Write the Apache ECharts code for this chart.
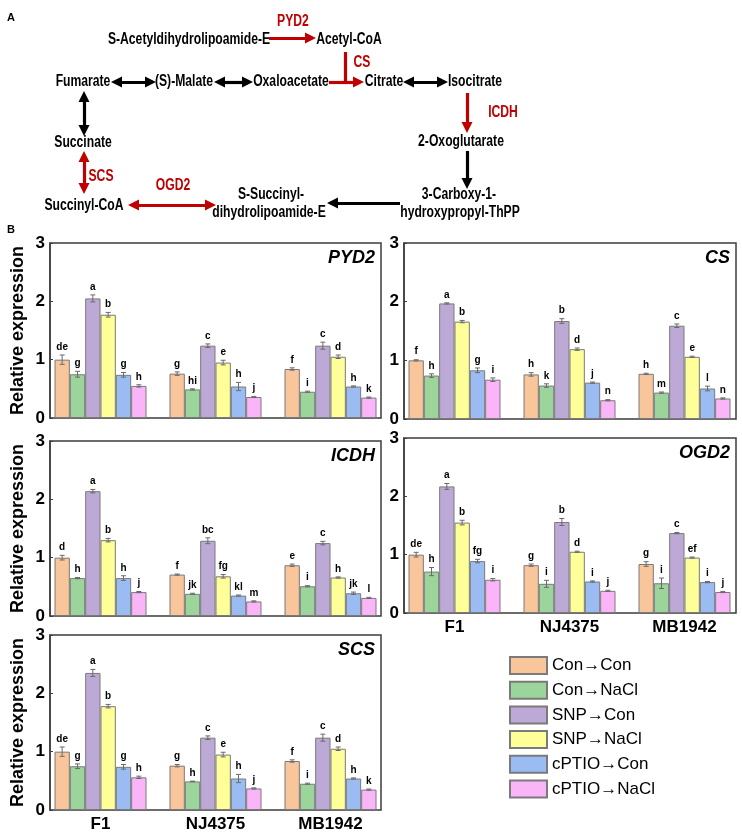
<!DOCTYPE html>
<html><head><meta charset="utf-8">
<script src="https://cdn.jsdelivr.net/npm/echarts@6/dist/echarts.min.js"></script>
<style>html,body{margin:0;padding:0;background:#fff}#c{width:742px;height:835px}</style>
</head><body><div id="c"></div><script>
// ---------------- DATA ----------------
const categories = ['F1', 'NJ4375', 'MB1942'];
const treatments = ['Con→Con', 'Con→NaCl', 'SNP→Con', 'SNP→NaCl', 'cPTIO→Con', 'cPTIO→NaCl'];
const yTicks = [0, 1, 2, 3];
const genes = ['PYD2', 'CS', 'ICDH', 'OGD2', 'SCS'];

// rows: F1, NJ4375, MB1942 ; columns: the 6 treatments
const pyd2Mean = [[1.00, 0.75, 2.05, 1.77, 0.74, 0.55], [0.76, 0.49, 1.24, 0.95, 0.54, 0.36], [0.84, 0.45, 1.24, 1.05, 0.54, 0.35]];
const pyd2Err  = [[0.08, 0.05, 0.06, 0.04, 0.04, 0.02], [0.03, 0.01, 0.03, 0.04, 0.07, 0.01], [0.02, 0.01, 0.06, 0.03, 0.01, 0.01]];
const pyd2Sig  = [['de', 'g', 'a', 'b', 'g', 'h'], ['g', 'hi', 'c', 'e', 'h', 'j'], ['f', 'i', 'c', 'd', 'h', 'k']];

const csMean = [[1.00, 0.74, 1.97, 1.66, 0.83, 0.67], [0.76, 0.57, 1.67, 1.19, 0.62, 0.32], [0.77, 0.45, 1.59, 1.06, 0.52, 0.35]];
const csErr  = [[0.01, 0.03, 0.01, 0.02, 0.04, 0.03], [0.03, 0.03, 0.04, 0.02, 0.01, 0.01], [0.01, 0.01, 0.03, 0.01, 0.04, 0.01]];
const csSig  = [['f', 'h', 'a', 'b', 'g', 'i'], ['h', 'k', 'b', 'd', 'j', 'n'], ['h', 'm', 'c', 'e', 'l', 'n']];

const icdhMean = [[1.00, 0.65, 2.14, 1.30, 0.65, 0.41], [0.71, 0.38, 1.29, 0.68, 0.35, 0.25], [0.87, 0.51, 1.25, 0.66, 0.39, 0.31]];
const icdhErr  = [[0.04, 0.01, 0.03, 0.03, 0.04, 0.01], [0.01, 0.01, 0.05, 0.03, 0.01, 0.01], [0.02, 0.01, 0.03, 0.01, 0.02, 0.01]];
const icdhSig  = [['d', 'h', 'a', 'b', 'h', 'j'], ['f', 'jk', 'bc', 'fg', 'kl', 'm'], ['e', 'i', 'c', 'h', 'jk', 'l']];

const ogd2Mean = [[1.00, 0.71, 2.17, 1.55, 0.89, 0.57], [0.82, 0.50, 1.56, 1.05, 0.54, 0.38], [0.84, 0.51, 1.37, 0.95, 0.53, 0.36]];
const ogd2Err  = [[0.04, 0.07, 0.05, 0.04, 0.03, 0.02], [0.02, 0.06, 0.06, 0.01, 0.01, 0.01], [0.04, 0.09, 0.01, 0.01, 0.01, 0.01]];
const ogd2Sig  = [['de', 'h', 'a', 'b', 'fg', 'i'], ['g', 'i', 'b', 'd', 'i', 'j'], ['g', 'i', 'c', 'ef', 'i', 'j']];

const scsMean = [[1.00, 0.75, 2.35, 1.78, 0.74, 0.56], [0.76, 0.49, 1.24, 0.95, 0.54, 0.37], [0.84, 0.45, 1.24, 1.05, 0.54, 0.35]];
const scsErr  = [[0.08, 0.04, 0.06, 0.03, 0.04, 0.02], [0.02, 0.005, 0.03, 0.04, 0.07, 0.01], [0.02, 0.01, 0.06, 0.03, 0.01, 0.01]];
const scsSig  = [['de', 'g', 'a', 'b', 'g', 'h'], ['g', 'h', 'c', 'e', 'h', 'j'], ['f', 'i', 'c', 'd', 'h', 'k']];

// Pathway (panel A) labels
const pathwayMetabolites = ['S-Acetyldihydrolipoamide-E', 'Acetyl-CoA', 'Fumarate', '(S)-Malate', 'Oxaloacetate', 'Citrate', 'Isocitrate',
  'Succinate', '2-Oxoglutarate', 'Succinyl-CoA', 'S-Succinyl-', 'dihydrolipoamide-E', '3-Carboxy-1-', 'hydroxypropyl-ThPP'];
const pathwayEnzymes = ['PYD2', 'CS', 'ICDH', 'SCS', 'OGD2'];

// ---------------- LAYOUT / STYLE ----------------
const colors = ['#F9C59B', '#9BD59B', '#BDA9D5', '#FFFF99', '#9BBCF3', '#F9B5F7'];
const FONT = '"Liberation Sans", Arial, sans-serif';
const BAR_CAT_GAP = 0.2;
const panels = [
  { gene: 'PYD2', mean: pyd2Mean, err: pyd2Err, sig: pyd2Sig, left: 50, top: 243, width: 331, height: 175, yName: true, xLabels: false },
  { gene: 'CS', mean: csMean, err: csErr, sig: csSig, left: 404, top: 243, width: 332, height: 176, yName: false, xLabels: false },
  { gene: 'ICDH', mean: icdhMean, err: icdhErr, sig: icdhSig, left: 50, top: 441, width: 331, height: 175, yName: true, xLabels: false },
  { gene: 'OGD2', mean: ogd2Mean, err: ogd2Err, sig: ogd2Sig, left: 404, top: 438, width: 332, height: 175, yName: false, xLabels: true },
  { gene: 'SCS', mean: scsMean, err: scsErr, sig: scsSig, left: 50, top: 635, width: 331, height: 175, yName: true, xLabels: true }
];
// label positions (pixel space of panel A)
const metabPos = [[189, 40], [349, 40], [83, 82], [184, 82], [291, 82], [384, 82], [475, 82],
  [83, 143], [461, 142], [84, 206], [271, 195], [269, 213], [459, 195], [460, 213]];
const enzymePos = [[293, 22], [362, 63], [503, 113], [101, 177], [173, 186]];

const grids = [], xAxes = [], yAxes = [], series = [], titles = [];
panels.forEach((p, i) => {
  grids.push({ left: p.left, top: p.top, width: p.width, height: p.height, show: true, borderColor: '#3c3c3c', borderWidth: 1.5, backgroundColor: 'transparent' });
  xAxes.push({ gridIndex: 2 * i, type: 'value', show: false, min: 0, max: 1 });
  yAxes.push({
    gridIndex: 2 * i, type: 'value', min: yTicks[0], max: yTicks[yTicks.length - 1], interval: 1,
    axisLine: { show: true, lineStyle: { color: '#3c3c3c', width: 1.5 } },
    axisTick: { show: true, inside: true, length: 3, lineStyle: { color: '#3c3c3c' } },
    splitLine: { show: false },
    axisLabel: { fontSize: 17, fontWeight: 'bold', color: '#000', fontFamily: FONT, margin: 5 },
    name: p.yName ? 'Relative expression' : '', nameLocation: 'middle', nameGap: 23,
    nameTextStyle: { fontSize: 18, fontWeight: 'bold', color: '#000', fontFamily: FONT }
  });
  grids.push({ left: p.left - 7, top: p.top, width: p.width + 14, height: p.height });
  xAxes.push({
    gridIndex: 2 * i + 1, type: 'category', data: categories,
    axisLine: { show: false }, axisTick: { show: false },
    axisLabel: { show: p.xLabels, fontSize: 17, fontWeight: 'bold', color: '#000', fontFamily: FONT, margin: 6 }
  });
  yAxes.push({ gridIndex: 2 * i + 1, type: 'value', min: 0, max: 3, show: false, splitLine: { show: false } });

  treatments.forEach((t, k) => {
    series.push({
      type: 'bar', name: t, xAxisIndex: 2 * i + 1, yAxisIndex: 2 * i + 1,
      data: categories.map((c, j) => p.mean[j][k]),
      barGap: '0%', barCategoryGap: (BAR_CAT_GAP * 100) + '%',
      itemStyle: { color: colors[k], borderColor: '#7a7a7a', borderWidth: 1 },
      emphasis: { disabled: true }, animation: false
    });
  });
  const errData = [];
  categories.forEach((c, j) => treatments.forEach((t, k) => errData.push([j, k, p.mean[j][k], p.err[j][k]])));
  series.push({
    type: 'custom', xAxisIndex: 2 * i + 1, yAxisIndex: 2 * i + 1, z: 10, animation: false,
    encode: { x: 0, y: 2 }, data: errData,
    renderItem: (params, api) => {
      const j = api.value(0), k = api.value(1), m = api.value(2), e = api.value(3);
      const band = api.size([1, 0])[0];
      const bw = band * (1 - BAR_CAT_GAP) / 6;
      const x = api.coord([j, m])[0] + (k - 2.5) * bw;
      const yT = api.coord([j, m + e])[1];
      const yB = api.coord([j, m - e])[1];
      const cap = 2.5, st = { stroke: '#6a6a6a', lineWidth: 1 };
      return { type: 'group', children: [
        { type: 'line', shape: { x1: x, y1: yT, x2: x, y2: yB }, style: st },
        { type: 'line', shape: { x1: x - cap, y1: yT, x2: x + cap, y2: yT }, style: st },
        { type: 'line', shape: { x1: x - cap, y1: yB, x2: x + cap, y2: yB }, style: st },
        { type: 'text', x: x, y: yT - 3, style: { text: p.sig[j][k], textAlign: 'center', textVerticalAlign: 'bottom', font: 'bold 10px ' + FONT, fill: '#000' } }
      ] };
    }
  });
  titles.push({ text: p.gene, right: 742 - (p.left + p.width) + 6, top: p.top + 6, padding: 0,
    textStyle: { fontSize: 18, fontStyle: 'italic', fontWeight: 'bold', color: '#000', fontFamily: FONT } });
});
titles.push({ text: 'A', left: 7, top: 12, padding: 0, textStyle: { fontSize: 11, fontWeight: 'bold', color: '#000', fontFamily: FONT } });
titles.push({ text: 'B', left: 7, top: 224, padding: 0, textStyle: { fontSize: 11, fontWeight: 'bold', color: '#000', fontFamily: FONT } });

// panel A grid in pixel units
const gA = grids.length;
grids.push({ left: 0, top: 0, width: 742, height: 835 });
xAxes.push({ gridIndex: gA, type: 'value', min: 0, max: 742, show: false });
yAxes.push({ gridIndex: gA, type: 'value', min: 0, max: 835, inverse: true, show: false });
const RED = '#C00000', BLK = '#000';
const labelSeries = (names, pos, color) => ({
  type: 'custom', xAxisIndex: gA, yAxisIndex: gA, animation: false, silent: true,
  data: names.map((n, i) => pos[i]),
  renderItem: (params, api) => {
    const pt = api.coord([api.value(0), api.value(1)]);
    return { type: 'text', x: pt[0], y: pt[1], scaleX: 0.76, scaleY: 1,
      style: { text: names[params.dataIndex], textAlign: 'center', textVerticalAlign: 'middle', font: 'bold 16px ' + FONT, fill: color } };
  }
});
series.push(labelSeries(pathwayMetabolites, metabPos, BLK));
series.push(labelSeries(pathwayEnzymes, enzymePos, RED));
const HEAD = 11;
// arrows given by visible start / tip points; ends with a head are pulled back by half the head size
const arrowSeries = (segs, color, sym) => ({
  type: 'lines', coordinateSystem: 'cartesian2d', xAxisIndex: gA, yAxisIndex: gA, animation: false, silent: true,
  symbol: sym, symbolSize: HEAD, lineStyle: { color: color, width: 3.2, opacity: 1 },
  data: segs.map(s => {
    const [a, b] = s, dx = b[0] - a[0], dy = b[1] - a[1], L = Math.hypot(dx, dy), ux = dx / L, uy = dy / L;
    const sa = sym[0] === 'none' ? 0 : HEAD / 2, sb = sym[1] === 'none' ? 0 : HEAD / 2;
    return { coords: [[a[0] + ux * sa, a[1] + uy * sa], [b[0] - ux * sb, b[1] - uy * sb]] };
  })
});
series.push(arrowSeries([[[269, 38], [316, 38]], [[329, 82], [364, 82]], [[467, 93], [467, 133]]], RED, ['none', 'triangle']));
series.push(arrowSeries([[[345, 52], [345, 83.6]]], RED, ['none', 'none']));
series.push(arrowSeries([[[128, 205], [216, 205]], [[84, 151], [84, 194]]], RED, ['triangle', 'triangle']));
series.push(arrowSeries([[[467, 151], [467, 189]], [[400, 203], [327, 203]]], BLK, ['none', 'triangle']));
series.push(arrowSeries([[[111, 82], [156, 82]], [[214, 82], [253, 82]], [[403, 82], [448, 82]], [[84, 91], [84, 136]]], BLK, ['triangle', 'triangle']));

const chart = echarts.init(document.getElementById('c'), null, { renderer: 'canvas' });
chart.setOption({
  backgroundColor: '#fff', animation: false,
  title: titles, grid: grids, xAxis: xAxes, yAxis: yAxes, series: series,
  legend: {
    data: treatments, orient: 'vertical', left: 509, top: 656, itemWidth: 37, itemHeight: 17, itemGap: 5.7,
    icon: 'rect', selectedMode: false, padding: 0,
    textStyle: { fontSize: 17, color: '#000', fontFamily: FONT }
  }
});
</script></body></html>
